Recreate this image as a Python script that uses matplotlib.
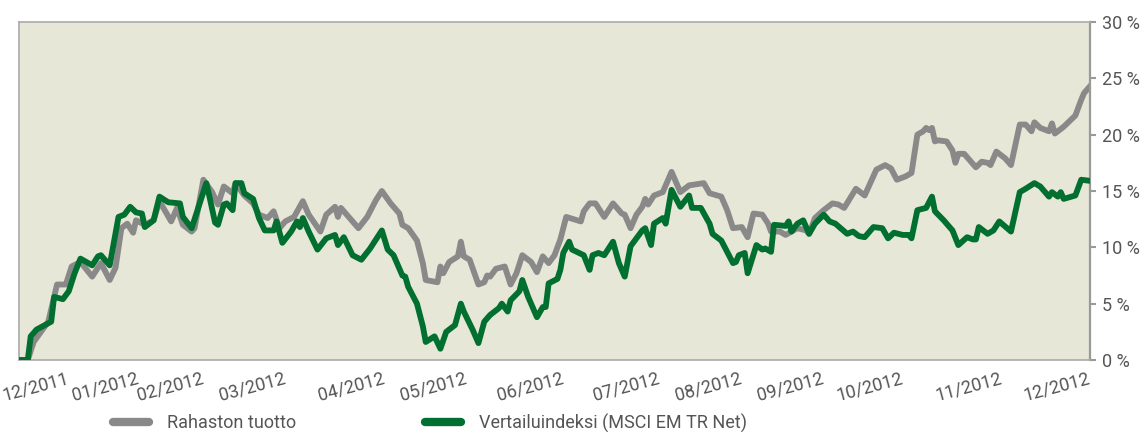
import matplotlib
matplotlib.use("Agg")
import matplotlib.pyplot as plt

# fonts: narrow sans like the original
plt.rcParams['font.family'] = ['Roboto', 'DejaVu Sans']

# DATA - day offsets from 30.11.2011 and cumulative return (%)
rahasto_pv = [0, 3, 5, 10, 13, 16, 18, 21, 25, 28, 31, 33, 35, 37, 39, 40, 43, 46, 48, 52,
              54, 56, 59, 60, 63, 66, 68, 70, 73, 74, 77, 80, 82, 85, 87, 89, 91, 94, 97, 99,
              103, 105, 108, 109, 110, 116, 119, 122, 124, 127, 130, 131, 133, 136, 138, 139,
              143, 144, 145, 147, 150, 151, 152, 154, 157, 159, 160, 161, 163, 166, 168, 170,
              172, 175, 177, 179, 181, 183, 185, 187, 192, 193, 195, 197, 200, 203, 206, 207,
              209, 211, 213, 214, 215, 217, 220, 223, 226, 229, 234, 236, 240, 242, 244, 247,
              249, 251, 254, 256, 257, 260, 262, 266, 269, 270, 272, 275, 278, 280, 282, 286,
              289, 293, 296, 298, 300, 303, 305, 307, 309, 310, 311, 312, 313, 314, 317, 319,
              320, 321, 323, 325, 327, 329, 331, 332, 334, 337, 339, 342, 344, 346, 347, 349,
              352, 353, 354, 357, 361, 363, 364, 366]
rahasto = [0.0, 0.0, 1.6, 3.4, 6.7, 6.7, 8.3, 8.7, 7.4, 8.6, 7.1, 8.2, 11.7, 12.1, 11.3, 12.4,
           12.0, 12.4, 14.1, 12.3, 13.5, 12.0, 11.4, 11.7, 16.0, 14.9, 13.8, 15.4, 14.8, 15.7,
           14.6, 13.9, 12.9, 12.6, 13.2, 11.7, 12.3, 12.7, 14.1, 12.9, 11.4, 12.9, 13.6, 12.7,
           13.5, 11.7, 12.7, 14.2, 15.0, 13.9, 13.0, 12.0, 11.7, 10.6, 8.6, 7.1, 6.9, 8.3, 7.7,
           8.7, 9.2, 10.5, 9.2, 8.9, 6.7, 6.9, 7.5, 7.4, 8.1, 8.3, 6.7, 7.7, 9.3, 8.7, 7.8, 9.2,
           8.6, 9.3, 10.7, 12.7, 12.3, 13.2, 13.9, 13.9, 12.7, 13.9, 13.0, 12.9, 11.7, 12.9,
           13.6, 14.3, 13.8, 14.6, 14.9, 16.7, 14.9, 15.5, 15.7, 14.8, 14.5, 13.3, 11.7, 11.8,
           10.9, 13.0, 12.9, 12.1, 11.4, 11.4, 11.1, 11.7, 11.5, 11.2, 12.6, 13.3, 13.9, 13.8,
           13.5, 15.2, 14.6, 16.9, 17.3, 17.0, 16.0, 16.3, 16.6, 20.0, 20.3, 20.6, 20.4, 20.6,
           19.4, 19.5, 19.4, 18.6, 17.5, 18.3, 18.3, 17.7, 17.1, 17.6, 17.5, 17.3, 18.5, 17.9,
           17.3, 20.9, 20.9, 20.3, 21.1, 20.6, 20.3, 21.0, 20.1, 20.7, 21.7, 23.1, 23.7, 24.3]

indeksi_pv = [0, 3, 4, 6, 11, 12, 15, 17, 19, 21, 25, 27, 28, 31, 34, 36, 38, 40, 42, 43, 46,
              48, 51, 55, 56, 59, 64, 65, 67, 68, 70, 71, 73, 74, 76, 77, 80, 82, 84, 87, 88,
              90, 93, 95, 96, 97, 99, 102, 105, 108, 109, 111, 114, 117, 120, 124, 126, 128,
              131, 132, 133, 136, 138, 139, 142, 144, 146, 149, 151, 152, 155, 157, 159, 161,
              164, 165, 167, 168, 171, 172, 174, 177, 179, 180, 181, 184, 185, 186, 188, 189,
              193, 195, 196, 198, 200, 203, 205, 207, 209, 213, 214, 216, 217, 220, 221, 223,
              226, 229, 230, 233, 236, 237, 240, 244, 245, 246, 248, 249, 252, 254, 255, 257,
              258, 262, 263, 264, 266, 268, 270, 272, 275, 277, 279, 283, 285, 287, 289, 292,
              295, 297, 299, 302, 304, 305, 307, 310, 312, 313, 316, 319, 321, 324, 326, 327,
              328, 331, 333, 335, 339, 342, 344, 347, 349, 352, 353, 355, 356, 357, 361, 363,
              366]
indeksi = [0.0, 0.0, 2.1, 2.7, 3.4, 5.6, 5.4, 6.1, 7.7, 9.0, 8.4, 9.2, 9.3, 8.4, 12.7, 12.9,
           13.6, 13.1, 13.0, 11.8, 12.4, 14.5, 14.0, 13.9, 12.7, 11.7, 15.7, 14.6, 12.2, 12.0,
           13.8, 13.9, 13.3, 15.7, 15.7, 14.8, 14.3, 12.6, 11.5, 11.5, 12.3, 10.4, 11.4, 12.3,
           11.8, 12.6, 11.4, 9.8, 10.8, 11.1, 10.2, 10.9, 9.3, 8.9, 9.9, 11.5, 9.8, 9.3, 7.5,
           7.4, 6.5, 5.0, 3.0, 1.6, 2.1, 1.0, 2.5, 3.1, 5.0, 4.3, 2.7, 1.5, 3.4, 4.0, 4.6, 5.0,
           4.3, 5.3, 6.1, 7.1, 5.6, 3.8, 4.7, 4.7, 6.8, 7.2, 8.0, 9.5, 10.5, 9.8, 9.3, 8.0,
           9.3, 9.5, 9.3, 10.5, 8.6, 7.4, 10.1, 11.5, 11.7, 10.2, 12.1, 12.6, 12.1, 15.1, 13.6,
           14.6, 13.5, 13.5, 12.1, 11.2, 10.6, 8.6, 8.7, 9.3, 9.5, 7.7, 10.2, 9.8, 9.9, 9.6,
           12.0, 11.9, 12.3, 11.4, 12.1, 12.4, 11.2, 12.1, 12.9, 12.3, 12.1, 11.2, 11.4, 11.0,
           10.9, 11.8, 11.7, 10.8, 11.3, 11.1, 11.1, 10.8, 13.3, 13.5, 14.5, 13.2, 12.4, 11.5,
           10.2, 10.9, 10.7, 10.7, 11.8, 11.2, 11.5, 12.3, 11.4, 14.9, 15.2, 15.7, 15.4, 14.5,
           14.9, 14.5, 14.9, 14.3, 14.6, 16.0, 15.9]

kuukausi_pv = [16, 40, 62, 90, 124, 152, 185, 218, 246, 274, 301, 335, 365]
kuukaudet = ['12/2011', '01/2012', '02/2012', '03/2012', '04/2012', '05/2012', '06/2012',
             '07/2012', '08/2012', '09/2012', '10/2012', '11/2012', '12/2012']
y_arvot = [0, 5, 10, 15, 20, 25, 30]

HARMAA = '#898989'
VIHREA = '#006f30'
TEKSTI = '#555555'

fig = plt.figure(figsize=(11.45, 4.32), dpi=100, facecolor='white')
ax = fig.add_axes([19 / 1145, 1 - 360 / 432, (1090 - 19) / 1145, (360 - 22) / 432])
ax.set_facecolor('#e6e7d6')

l1, = ax.plot(rahasto_pv, rahasto, color=HARMAA, lw=4.2, solid_joinstyle='round',
              label='Rahaston tuotto', zorder=2)
l2, = ax.plot(indeksi_pv, indeksi, color=VIHREA, lw=4.2, solid_joinstyle='round',
              label='Vertailuindeksi (MSCI EM TR Net)', zorder=3)

ax.set_xlim(0, 366)
ax.set_ylim(0, 30)

# y-akseli oikealla
ax.yaxis.tick_right()
ax.set_yticks(y_arvot)
ax.set_yticklabels([f'{v} %' for v in y_arvot])
ax.tick_params(axis='y', length=4, width=1.5, color='#999999', pad=5,
               labelsize=13, labelcolor=TEKSTI, left=False)

ax.set_xticks(kuukausi_pv)
ax.set_xticklabels(kuukaudet, rotation=15, ha='right', va='top', rotation_mode='anchor')
ax.tick_params(axis='x', length=0, pad=7, labelsize=13, labelcolor=TEKSTI)

for s in ['left', 'top', 'bottom']:
    ax.spines[s].set_color('#aaaaaa')
    ax.spines[s].set_linewidth(1.2)
ax.spines['right'].set_color('#999999')
ax.spines['right'].set_linewidth(1.6)

# selite
for viiva, x0 in [(l1, 113), (l2, 425)]:
    leg = fig.legend(handles=[viiva], loc='center left', bbox_to_anchor=(x0 / 1145, 9 / 432),
                     frameon=False, fontsize=13, handlelength=2.0, handletextpad=1.0,
                     borderpad=0, borderaxespad=0, labelcolor=TEKSTI)
    for h in leg.get_lines():
        h.set_linewidth(6)
        h.set_solid_capstyle('round')

fig.savefig('out.png', dpi=100, facecolor='white')
